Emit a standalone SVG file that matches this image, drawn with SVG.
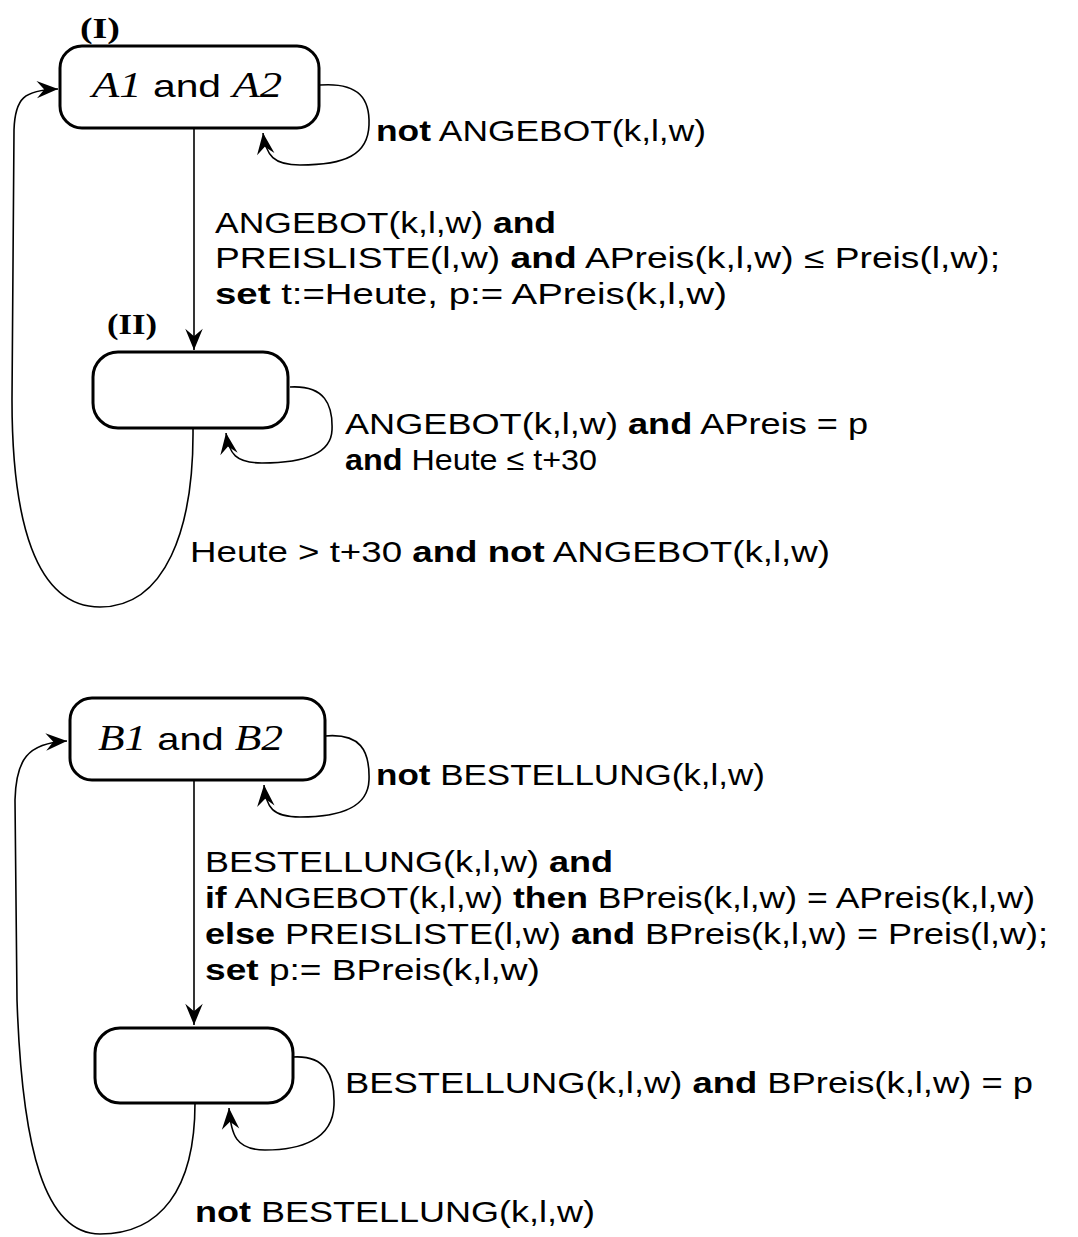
<svg xmlns="http://www.w3.org/2000/svg" width="1078" height="1237" viewBox="0 0 1078 1237">
<style>
.box{fill:#fff;stroke:#000;stroke-width:3}
.edge{fill:none;stroke:#000;stroke-width:1.6}
.t{font-family:"Liberation Sans",Arial,sans-serif;font-size:30px;fill:#000}
.b{font-weight:bold}
.s{font-family:"Liberation Serif","Times New Roman",serif;font-weight:bold;font-size:29px;fill:#000}
.it{font-family:"Liberation Serif","Times New Roman",serif;font-style:italic;font-size:35px}
.n{font-family:"Liberation Sans",Arial,sans-serif;font-size:32px;fill:#000}
</style>
<defs>
<marker id="arr" markerUnits="userSpaceOnUse" markerWidth="30" markerHeight="30" viewBox="-20 -10 24 20" refX="0" refY="0" orient="auto">
<path d="M0,0 L-17,-7 L-11,0 L-17,7 Z" fill="#000"/>
</marker>
</defs>
<rect width="1078" height="1237" fill="#fff"/>
<g id="connectors">
<path class="edge" d="M320,85 C360,82 370,100 369,125 C368,155 345,165 300,165 C274,165 266,156 263,133" marker-end="url(#arr)"/>
<path class="edge" d="M194,128 L194,350" marker-end="url(#arr)"/>
<path class="edge" d="M290,387 C325,385 333,405 332,430 C331,456 300,463 262,463 C236,463 229,454 226,433" marker-end="url(#arr)"/>
<path class="edge" d="M193,428 C194,530 165,607 100,607 C35,607 12,520 12,400 L14,130 C15,98 24,90 58,89" marker-end="url(#arr)"/>
<path class="edge" d="M325,736 C360,733 370,750 369,780 C368,808 340,817 300,817 C273,817 266,808 264,785" marker-end="url(#arr)"/>
<path class="edge" d="M194,780 L194,1025" marker-end="url(#arr)"/>
<path class="edge" d="M293,1057 C325,1055 335,1075 334,1105 C333,1140 300,1150 265,1150 C236,1150 231,1135 229,1108" marker-end="url(#arr)"/>
<path class="edge" d="M195,1103 C195,1190 160,1234 100,1234 C45,1234 22,1150 17,1000 L15,800 C16,760 27,743 67,741" marker-end="url(#arr)"/>
</g>
<g id="nodeA">
<text class="s" x="80" y="38" textLength="40" lengthAdjust="spacingAndGlyphs">(I)</text>
<rect class="box" x="60" y="46" width="259" height="82" rx="22"/>
<text class="n" x="92" y="97" textLength="190" lengthAdjust="spacingAndGlyphs"><tspan class="it">A1</tspan> and <tspan class="it">A2</tspan></text>
</g>
<g id="nodeA2">
<text class="s" x="107" y="334" textLength="50" lengthAdjust="spacingAndGlyphs">(II)</text>
<rect class="box" x="93" y="352" width="195" height="76" rx="25"/>
</g>
<g id="nodeB">
<rect class="box" x="70" y="698" width="255" height="82" rx="22"/>
<text class="n" x="98" y="750" textLength="185" lengthAdjust="spacingAndGlyphs"><tspan class="it">B1</tspan> and <tspan class="it">B2</tspan></text>
</g>
<g id="nodeB2">
<rect class="box" x="95" y="1028" width="198" height="75" rx="25"/>
</g>
<g id="labels">
<text class="t" x="376" y="141" textLength="330" lengthAdjust="spacingAndGlyphs"><tspan class="b">not</tspan> ANGEBOT(k,l,w)</text>
<text class="t" x="215" y="233" textLength="341" lengthAdjust="spacingAndGlyphs">ANGEBOT(k,l,w) <tspan class="b">and</tspan></text>
<text class="t" x="215" y="268" textLength="785" lengthAdjust="spacingAndGlyphs">PREISLISTE(l,w) <tspan class="b">and</tspan> APreis(k,l,w) ≤ Preis(l,w);</text>
<text class="t" x="215" y="304" textLength="512" lengthAdjust="spacingAndGlyphs"><tspan class="b">set</tspan>  t:=Heute, p:= APreis(k,l,w)</text>
<text class="t" x="345" y="434" textLength="523" lengthAdjust="spacingAndGlyphs">ANGEBOT(k,l,w) <tspan class="b">and</tspan> APreis = p</text>
<text class="t" x="345" y="470" textLength="252" lengthAdjust="spacingAndGlyphs"><tspan class="b">and</tspan> Heute ≤ t+30</text>
<text class="t" x="190" y="562" textLength="640" lengthAdjust="spacingAndGlyphs">Heute &gt; t+30  <tspan class="b">and not</tspan> ANGEBOT(k,l,w)</text>
<text class="t" x="376" y="785" textLength="389" lengthAdjust="spacingAndGlyphs"><tspan class="b">not</tspan> BESTELLUNG(k,l,w)</text>
<text class="t" x="205" y="872" textLength="408" lengthAdjust="spacingAndGlyphs">BESTELLUNG(k,l,w) <tspan class="b">and</tspan></text>
<text class="t" x="205" y="908" textLength="830" lengthAdjust="spacingAndGlyphs"><tspan class="b">if</tspan> ANGEBOT(k,l,w) <tspan class="b">then</tspan> BPreis(k,l,w)  = APreis(k,l,w)</text>
<text class="t" x="205" y="944" textLength="843" lengthAdjust="spacingAndGlyphs"><tspan class="b">else</tspan>  PREISLISTE(l,w) <tspan class="b">and</tspan> BPreis(k,l,w) = Preis(l,w);</text>
<text class="t" x="205" y="980" textLength="335" lengthAdjust="spacingAndGlyphs"><tspan class="b">set</tspan>  p:= BPreis(k,l,w)</text>
<text class="t" x="345" y="1093" textLength="688" lengthAdjust="spacingAndGlyphs">BESTELLUNG(k,l,w) <tspan class="b">and</tspan> BPreis(k,l,w) = p</text>
<text class="t" x="195" y="1222" textLength="400" lengthAdjust="spacingAndGlyphs"><tspan class="b">not</tspan> BESTELLUNG(k,l,w)</text>
</g>
</svg>
